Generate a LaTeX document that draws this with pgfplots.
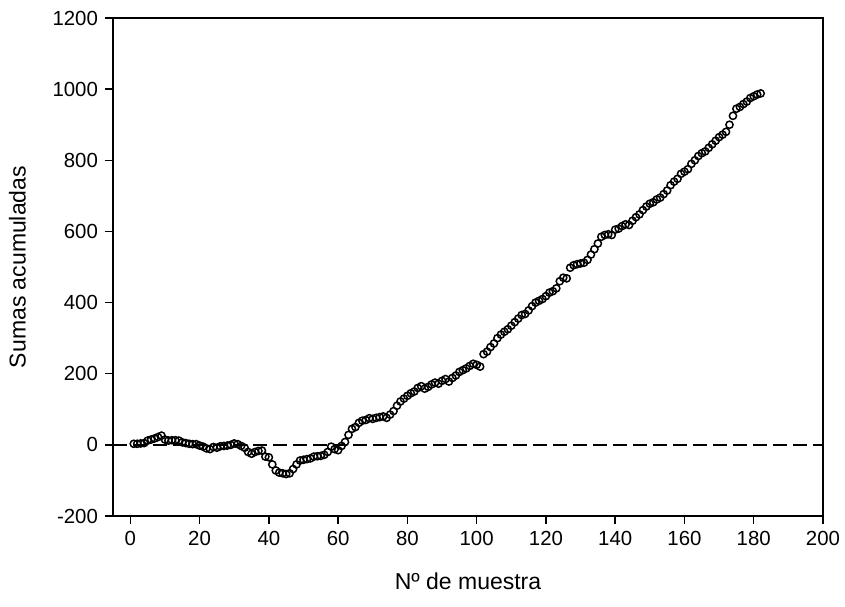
\documentclass[border=0pt]{standalone}
\usepackage{fontspec}
\setmainfont{Liberation Sans}
\usepackage{pgfplots}
\pgfplotsset{compat=1.18}

\pgfplotstableread{
n v
1 3
2 3
3 4
4 5
5 12
6 15
7 18
8 22
9 26
10 15
11 12
12 13
13 13
14 12
15 7
16 5
17 3
18 2
19 2
20 -2
21 -5
22 -10
23 -12
24 -6
25 -8
26 -4
27 -3
28 -2
29 0
30 4
31 2
32 -3
33 -8
34 -20
35 -25
36 -20
37 -17
38 -16
39 -33
40 -35
41 -55
42 -72
43 -78
44 -80
45 -82
46 -80
47 -68
48 -55
49 -44
50 -42
51 -40
52 -38
53 -33
54 -32
55 -31
56 -28
57 -20
58 -5
59 -12
60 -15
61 -3
62 8
63 28
64 45
65 50
66 62
67 68
68 70
69 75
70 73
71 76
72 78
73 80
74 76
75 85
76 95
77 110
78 122
79 130
80 138
81 145
82 150
83 160
84 165
85 158
86 163
87 170
88 175
89 172
90 180
91 185
92 178
93 188
94 195
95 205
96 210
97 215
98 222
99 228
100 225
101 220
102 255
103 262
104 275
105 285
106 300
107 310
108 318
109 325
110 335
111 345
112 355
113 365
114 368
115 378
116 390
117 400
118 405
119 410
120 418
121 428
122 432
123 440
124 460
125 470
126 468
127 498
128 505
129 508
130 510
131 512
132 520
133 535
134 550
135 566
136 585
137 590
138 592
139 590
140 605
141 608
142 615
143 620
144 618
145 630
146 640
147 648
148 660
149 670
150 678
151 682
152 690
153 695
154 705
155 715
156 730
157 740
158 748
159 762
160 768
161 775
162 790
163 800
164 812
165 820
166 825
167 835
168 845
169 855
170 865
171 872
172 880
173 900
174 925
175 945
176 950
177 958
178 965
179 975
180 980
181 985
182 988
}\sumas

\begin{document}
\begin{tikzpicture}
\useasboundingbox (-56.5pt,-45pt) rectangle (366pt,258pt);
\begin{axis}[scale only axis, width=355pt, height=249pt,
  xmin=-5, xmax=200, ymin=-200, ymax=1200,
  xtick={0,20,...,200}, ytick={-200,0,...,1200},
  xticklabels={0,20,40,60,80,100,120,140,160,180,200},
  yticklabels={-200,0,200,400,600,800,1000,1200},
  xtick pos=bottom, ytick pos=left, tick align=outside,
  major tick length=4pt,
  axis line style={line width=0.75pt}, every tick/.style={line width=0.75pt, black},
  tick label style={font=\fontsize{10.2}{12}\selectfont},
  label style={font=\fontsize{11.5}{14}\selectfont},
  xlabel={Nº de muestra}, ylabel={Sumas acumuladas},
  xlabel style={yshift=-7pt}, ylabel style={yshift=6.5pt}]
\addplot[black, dash pattern=on 7pt off 3pt, line width=0.75pt] coordinates {(-5,0) (200,0)};
\addplot[only marks, mark=o, mark size=1.8pt, mark options={line width=0.75pt, black, fill=white}] table[x=n, y=v] {\sumas};
\end{axis}
\end{tikzpicture}
\end{document}
